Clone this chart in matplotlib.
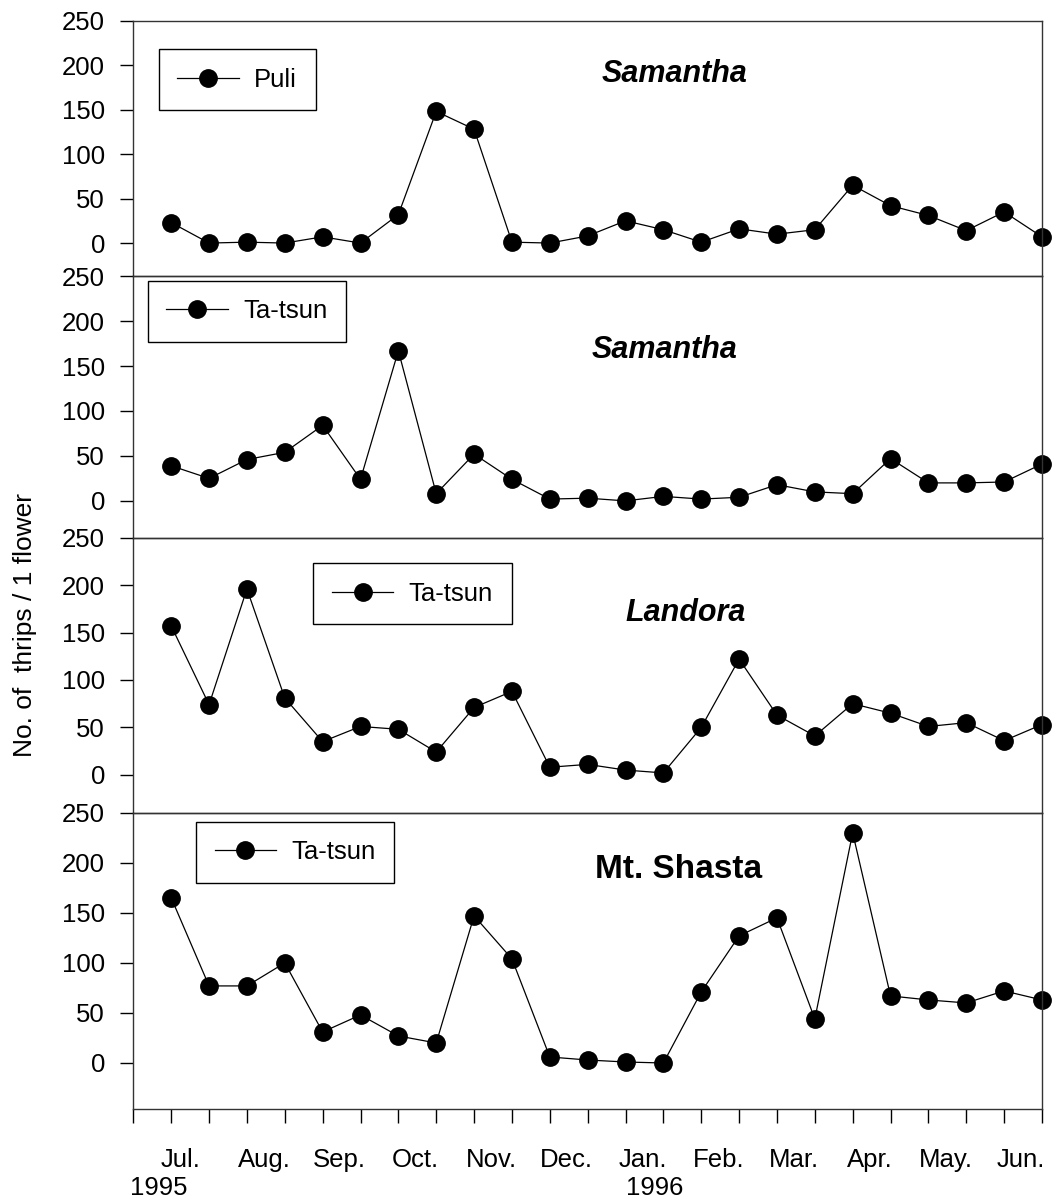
"""
Thrips counts per flower, Jul. 1995 - Jun. 1996, four stacked panels.
"""

import numpy as np
import matplotlib
matplotlib.use("Agg")
import matplotlib.pyplot as plt

plt.rcParams['font.family'] = ['Liberation Sans', 'DejaVu Sans']

# two samples per month, Jul. 1995 .. Jun. 1996
samples = np.arange(1, 25)
months = ['Jul.', 'Aug.', 'Sep.', 'Oct.', 'Nov.', 'Dec.',
          'Jan.', 'Feb.', 'Mar.', 'Apr.', 'May.', 'Jun.']
years = ['1995', '1996']
y_ticks = [0, 50, 100, 150, 200, 250]

puli_samantha = [23, 0, 1, 0, 7, 0, 32, 148, 128, 1, 0, 8,
                 25, 15, 1, 16, 10, 15, 65, 42, 31, 14, 35, 7]
tatsun_samantha = [39, 25, 46, 54, 84, 24, 167, 8, 52, 24, 2, 3,
                   0, 5, 2, 4, 18, 10, 8, 47, 20, 20, 21, 41]
tatsun_landora = [157, 74, 196, 81, 35, 51, 48, 24, 71, 88, 8, 11,
                  5, 2, 50, 122, 63, 41, 75, 65, 51, 55, 36, 53]
tatsun_shasta = [165, 77, 77, 100, 31, 48, 27, 20, 147, 104, 6, 3,
                 1, 0, 71, 127, 145, 44, 230, 67, 63, 60, 72, 63]

series = [puli_samantha, tatsun_samantha, tatsun_landora, tatsun_shasta]
sites = ['Puli', 'Ta-tsun', 'Ta-tsun', 'Ta-tsun']
cultivars = ['Samantha', 'Samantha', 'Landora', 'Mt. Shasta']

# layout: [left, bottom, width, height], y lower limit, legend anchor, title pos
boxes = [
    [0.1258, 0.7706, 0.8572, 0.2122],
    [0.1258, 0.5530, 0.8572, 0.2175],
    [0.1258, 0.3244, 0.8572, 0.2286],
    [0.1258, 0.0781, 0.8572, 0.2463],
]
y_low = [-37, -41, -40, -46]
leg_anchor = [(0.028, 0.889), (0.016, 0.982), (0.198, 0.908), (0.069, 0.969)]
title_pos = [(0.596, 0.760), (0.585, 0.687), (0.608, 0.697), (0.600, 0.780)]

fig = plt.figure(figsize=(10.6, 12.03), dpi=100)

for i in range(4):
    ax = fig.add_axes(boxes[i])
    ax.set_facecolor('none')
    ax.plot(samples, series[i], color='black', lw=0.9, marker='o',
            markersize=12.5, markerfacecolor='black', markeredgecolor='black',
            clip_on=False, label=sites[i])
    ax.set_xlim(0, 24)
    ax.set_ylim(y_low[i], 250)
    ax.set_yticks(y_ticks)
    ax.tick_params(axis='y', direction='out', length=9.5, width=1,
                   pad=11, labelsize=18.5)
    for s in ax.spines.values():
        s.set_linewidth(1.0)
        s.set_color('#333333')

    if i < 3:
        ax.tick_params(axis='x', bottom=False, labelbottom=False)
    else:
        ax.set_xticks(np.arange(0, 25))
        ax.tick_params(axis='x', direction='out', length=10, width=1,
                       labelbottom=False)
        trans = ax.get_xaxis_transform()
        month_x = np.arange(12) * 2 + 1.45
        month_x[0] = 1.26
        for mx, m in zip(month_x, months):
            ax.text(mx, -0.195, m, transform=trans, ha='center',
                    va='baseline', fontsize=18.5)
        for yx, yr in zip([0.67, 13.78], years):
            ax.text(yx, -0.290, yr, transform=trans, ha='center',
                    va='baseline', fontsize=18.5)

    leg = ax.legend(loc='upper left', bbox_to_anchor=leg_anchor[i],
                    borderaxespad=0, fancybox=False, framealpha=1,
                    edgecolor='black', fontsize=18.5, handlelength=2.4,
                    handletextpad=0.6, borderpad=0.72)
    leg.get_frame().set_linewidth(1.0)

    if i < 3:
        ax.text(*title_pos[i], cultivars[i], transform=ax.transAxes,
                ha='center', va='baseline', fontsize=22,
                fontweight='bold', fontstyle='italic')
    else:
        ax.text(*title_pos[i], cultivars[i], transform=ax.transAxes,
                ha='center', va='baseline', fontsize=24, fontweight='bold')

fig.text(0.0236, 0.4805, 'No. of  thrips / 1 flower', rotation=90,
         ha='center', va='center', fontsize=19)

fig.savefig('out.png', dpi=100)
